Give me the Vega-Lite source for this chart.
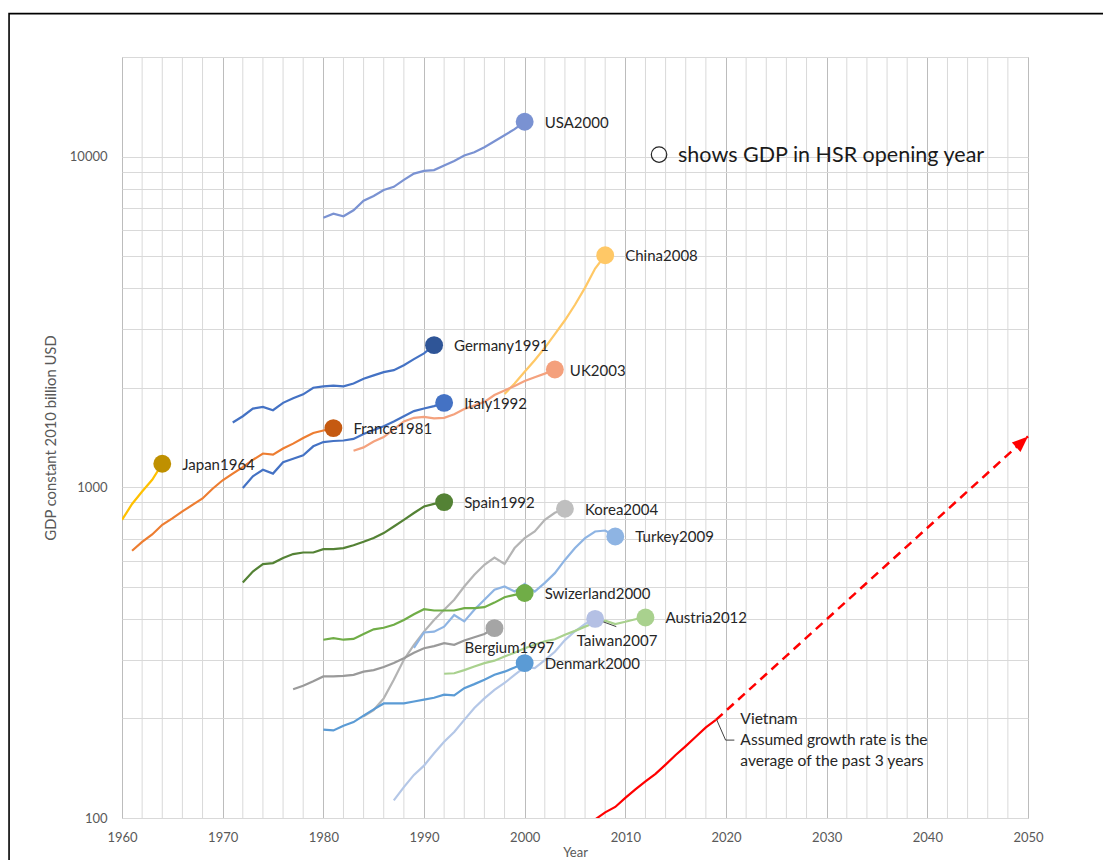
{
  "$schema": "https://vega.github.io/schema/vega-lite/v6.json",
  "width": 906,
  "height": 761,
  "autosize": {"type": "none"},
  "padding": {"left": 122, "top": 57, "right": 75, "bottom": 42},
  "background": "white",
  "config": {
    "view": {"stroke": "#bfbfbf", "strokeWidth": 1},
    "font": "Lato",
    "text": {"font": "Lato"},
    "axis": {"labelOverlap": false, "labelFlush": false, "labelBound": false}
  },
  "resolve": {"scale": {"color": "independent"}},
  "datasets": {
    "minorYears": [
      {"year": 1962}, {"year": 1964}, {"year": 1966}, {"year": 1968},
      {"year": 1972}, {"year": 1974}, {"year": 1976}, {"year": 1978},
      {"year": 1982}, {"year": 1984}, {"year": 1986}, {"year": 1988},
      {"year": 1992}, {"year": 1994}, {"year": 1996}, {"year": 1998},
      {"year": 2002}, {"year": 2004}, {"year": 2006}, {"year": 2008},
      {"year": 2012}, {"year": 2014}, {"year": 2016}, {"year": 2018},
      {"year": 2022}, {"year": 2024}, {"year": 2026}, {"year": 2028},
      {"year": 2032}, {"year": 2034}, {"year": 2036}, {"year": 2038},
      {"year": 2042}, {"year": 2044}, {"year": 2046}, {"year": 2048}
    ],
    "gdp": [
      {"country": "USA", "year": 1980, "gdp": 6530}, {"country": "USA", "year": 1981, "gdp": 6720}, {"country": "USA", "year": 1982, "gdp": 6600}, {"country": "USA", "year": 1983, "gdp": 6880}, {"country": "USA", "year": 1984, "gdp": 7350}, {"country": "USA", "year": 1985, "gdp": 7600}, {"country": "USA", "year": 1986, "gdp": 7920}, {"country": "USA", "year": 1987, "gdp": 8100}, {"country": "USA", "year": 1988, "gdp": 8500}, {"country": "USA", "year": 1989, "gdp": 8880}, {"country": "USA", "year": 1990, "gdp": 9050}, {"country": "USA", "year": 1991, "gdp": 9100}, {"country": "USA", "year": 1992, "gdp": 9400}, {"country": "USA", "year": 1993, "gdp": 9700}, {"country": "USA", "year": 1994, "gdp": 10070}, {"country": "USA", "year": 1995, "gdp": 10300}, {"country": "USA", "year": 1996, "gdp": 10670}, {"country": "USA", "year": 1997, "gdp": 11120}, {"country": "USA", "year": 1998, "gdp": 11600}, {"country": "USA", "year": 1999, "gdp": 12100}, {"country": "USA", "year": 2000, "gdp": 12740},
      {"country": "China", "year": 1998, "gdp": 1913}, {"country": "China", "year": 1999, "gdp": 2060}, {"country": "China", "year": 2000, "gdp": 2235}, {"country": "China", "year": 2001, "gdp": 2421}, {"country": "China", "year": 2002, "gdp": 2641}, {"country": "China", "year": 2003, "gdp": 2905}, {"country": "China", "year": 2004, "gdp": 3199}, {"country": "China", "year": 2005, "gdp": 3563}, {"country": "China", "year": 2006, "gdp": 4016}, {"country": "China", "year": 2007, "gdp": 4586}, {"country": "China", "year": 2008, "gdp": 5031},
      {"country": "UK", "year": 1983, "gdp": 1290}, {"country": "UK", "year": 1984, "gdp": 1320}, {"country": "UK", "year": 1985, "gdp": 1375}, {"country": "UK", "year": 1986, "gdp": 1419}, {"country": "UK", "year": 1987, "gdp": 1496}, {"country": "UK", "year": 1988, "gdp": 1581}, {"country": "UK", "year": 1989, "gdp": 1622}, {"country": "UK", "year": 1990, "gdp": 1633}, {"country": "UK", "year": 1991, "gdp": 1615}, {"country": "UK", "year": 1992, "gdp": 1622}, {"country": "UK", "year": 1993, "gdp": 1662}, {"country": "UK", "year": 1994, "gdp": 1725}, {"country": "UK", "year": 1995, "gdp": 1768}, {"country": "UK", "year": 1996, "gdp": 1812}, {"country": "UK", "year": 1997, "gdp": 1901}, {"country": "UK", "year": 1998, "gdp": 1962}, {"country": "UK", "year": 1999, "gdp": 2025}, {"country": "UK", "year": 2000, "gdp": 2096}, {"country": "UK", "year": 2001, "gdp": 2152}, {"country": "UK", "year": 2002, "gdp": 2206}, {"country": "UK", "year": 2003, "gdp": 2270},
      {"country": "Germany", "year": 1971, "gdp": 1570}, {"country": "Germany", "year": 1972, "gdp": 1640}, {"country": "Germany", "year": 1973, "gdp": 1730}, {"country": "Germany", "year": 1974, "gdp": 1750}, {"country": "Germany", "year": 1975, "gdp": 1710}, {"country": "Germany", "year": 1976, "gdp": 1800}, {"country": "Germany", "year": 1977, "gdp": 1860}, {"country": "Germany", "year": 1978, "gdp": 1910}, {"country": "Germany", "year": 1979, "gdp": 2000}, {"country": "Germany", "year": 1980, "gdp": 2020}, {"country": "Germany", "year": 1981, "gdp": 2030}, {"country": "Germany", "year": 1982, "gdp": 2020}, {"country": "Germany", "year": 1983, "gdp": 2060}, {"country": "Germany", "year": 1984, "gdp": 2130}, {"country": "Germany", "year": 1985, "gdp": 2180}, {"country": "Germany", "year": 1986, "gdp": 2230}, {"country": "Germany", "year": 1987, "gdp": 2260}, {"country": "Germany", "year": 1988, "gdp": 2340}, {"country": "Germany", "year": 1989, "gdp": 2440}, {"country": "Germany", "year": 1990, "gdp": 2540}, {"country": "Germany", "year": 1991, "gdp": 2690},
      {"country": "Italy", "year": 1972, "gdp": 995}, {"country": "Italy", "year": 1973, "gdp": 1080}, {"country": "Italy", "year": 1974, "gdp": 1130}, {"country": "Italy", "year": 1975, "gdp": 1100}, {"country": "Italy", "year": 1976, "gdp": 1190}, {"country": "Italy", "year": 1977, "gdp": 1220}, {"country": "Italy", "year": 1978, "gdp": 1250}, {"country": "Italy", "year": 1979, "gdp": 1330}, {"country": "Italy", "year": 1980, "gdp": 1370}, {"country": "Italy", "year": 1981, "gdp": 1380}, {"country": "Italy", "year": 1982, "gdp": 1385}, {"country": "Italy", "year": 1983, "gdp": 1400}, {"country": "Italy", "year": 1984, "gdp": 1450}, {"country": "Italy", "year": 1985, "gdp": 1490}, {"country": "Italy", "year": 1986, "gdp": 1530}, {"country": "Italy", "year": 1987, "gdp": 1580}, {"country": "Italy", "year": 1988, "gdp": 1640}, {"country": "Italy", "year": 1989, "gdp": 1700}, {"country": "Italy", "year": 1990, "gdp": 1730}, {"country": "Italy", "year": 1991, "gdp": 1760}, {"country": "Italy", "year": 1992, "gdp": 1800},
      {"country": "France", "year": 1961, "gdp": 643}, {"country": "France", "year": 1962, "gdp": 684}, {"country": "France", "year": 1963, "gdp": 720}, {"country": "France", "year": 1964, "gdp": 770}, {"country": "France", "year": 1965, "gdp": 805}, {"country": "France", "year": 1966, "gdp": 845}, {"country": "France", "year": 1967, "gdp": 885}, {"country": "France", "year": 1968, "gdp": 925}, {"country": "France", "year": 1969, "gdp": 990}, {"country": "France", "year": 1970, "gdp": 1050}, {"country": "France", "year": 1971, "gdp": 1100}, {"country": "France", "year": 1972, "gdp": 1150}, {"country": "France", "year": 1973, "gdp": 1210}, {"country": "France", "year": 1974, "gdp": 1265}, {"country": "France", "year": 1975, "gdp": 1255}, {"country": "France", "year": 1976, "gdp": 1310}, {"country": "France", "year": 1977, "gdp": 1355}, {"country": "France", "year": 1978, "gdp": 1410}, {"country": "France", "year": 1979, "gdp": 1460}, {"country": "France", "year": 1980, "gdp": 1485}, {"country": "France", "year": 1981, "gdp": 1510},
      {"country": "Japan", "year": 1960, "gdp": 797}, {"country": "Japan", "year": 1961, "gdp": 890}, {"country": "Japan", "year": 1962, "gdp": 971}, {"country": "Japan", "year": 1963, "gdp": 1054}, {"country": "Japan", "year": 1964, "gdp": 1178},
      {"country": "Spain", "year": 1972, "gdp": 515}, {"country": "Spain", "year": 1973, "gdp": 556}, {"country": "Spain", "year": 1974, "gdp": 586}, {"country": "Spain", "year": 1975, "gdp": 590}, {"country": "Spain", "year": 1976, "gdp": 611}, {"country": "Spain", "year": 1977, "gdp": 628}, {"country": "Spain", "year": 1978, "gdp": 635}, {"country": "Spain", "year": 1979, "gdp": 635}, {"country": "Spain", "year": 1980, "gdp": 650}, {"country": "Spain", "year": 1981, "gdp": 650}, {"country": "Spain", "year": 1982, "gdp": 655}, {"country": "Spain", "year": 1983, "gdp": 668}, {"country": "Spain", "year": 1984, "gdp": 684}, {"country": "Spain", "year": 1985, "gdp": 702}, {"country": "Spain", "year": 1986, "gdp": 727}, {"country": "Spain", "year": 1987, "gdp": 761}, {"country": "Spain", "year": 1988, "gdp": 797}, {"country": "Spain", "year": 1989, "gdp": 836}, {"country": "Spain", "year": 1990, "gdp": 875}, {"country": "Spain", "year": 1991, "gdp": 891}, {"country": "Spain", "year": 1992, "gdp": 902},
      {"country": "Korea", "year": 1984, "gdp": 203}, {"country": "Korea", "year": 1985, "gdp": 212}, {"country": "Korea", "year": 1986, "gdp": 230}, {"country": "Korea", "year": 1987, "gdp": 262}, {"country": "Korea", "year": 1988, "gdp": 301}, {"country": "Korea", "year": 1989, "gdp": 334}, {"country": "Korea", "year": 1990, "gdp": 366}, {"country": "Korea", "year": 1991, "gdp": 397}, {"country": "Korea", "year": 1992, "gdp": 426}, {"country": "Korea", "year": 1993, "gdp": 457}, {"country": "Korea", "year": 1994, "gdp": 501}, {"country": "Korea", "year": 1995, "gdp": 544}, {"country": "Korea", "year": 1996, "gdp": 583}, {"country": "Korea", "year": 1997, "gdp": 613}, {"country": "Korea", "year": 1998, "gdp": 586}, {"country": "Korea", "year": 1999, "gdp": 655}, {"country": "Korea", "year": 2000, "gdp": 702}, {"country": "Korea", "year": 2001, "gdp": 735}, {"country": "Korea", "year": 2002, "gdp": 797}, {"country": "Korea", "year": 2003, "gdp": 837}, {"country": "Korea", "year": 2004, "gdp": 861},
      {"country": "Turkey", "year": 1989, "gdp": 327}, {"country": "Turkey", "year": 1990, "gdp": 364}, {"country": "Turkey", "year": 1991, "gdp": 366}, {"country": "Turkey", "year": 1992, "gdp": 379}, {"country": "Turkey", "year": 1993, "gdp": 411}, {"country": "Turkey", "year": 1994, "gdp": 393}, {"country": "Turkey", "year": 1995, "gdp": 426}, {"country": "Turkey", "year": 1996, "gdp": 457}, {"country": "Turkey", "year": 1997, "gdp": 490}, {"country": "Turkey", "year": 1998, "gdp": 501}, {"country": "Turkey", "year": 1999, "gdp": 484}, {"country": "Turkey", "year": 2000, "gdp": 510}, {"country": "Turkey", "year": 2001, "gdp": 484}, {"country": "Turkey", "year": 2002, "gdp": 514}, {"country": "Turkey", "year": 2003, "gdp": 550}, {"country": "Turkey", "year": 2004, "gdp": 603}, {"country": "Turkey", "year": 2005, "gdp": 655}, {"country": "Turkey", "year": 2006, "gdp": 702}, {"country": "Turkey", "year": 2007, "gdp": 735}, {"country": "Turkey", "year": 2008, "gdp": 740}, {"country": "Turkey", "year": 2009, "gdp": 710},
      {"country": "Switzerland", "year": 1980, "gdp": 346}, {"country": "Switzerland", "year": 1981, "gdp": 350}, {"country": "Switzerland", "year": 1982, "gdp": 346}, {"country": "Switzerland", "year": 1983, "gdp": 348}, {"country": "Switzerland", "year": 1984, "gdp": 360}, {"country": "Switzerland", "year": 1985, "gdp": 372}, {"country": "Switzerland", "year": 1986, "gdp": 376}, {"country": "Switzerland", "year": 1987, "gdp": 384}, {"country": "Switzerland", "year": 1988, "gdp": 397}, {"country": "Switzerland", "year": 1989, "gdp": 413}, {"country": "Switzerland", "year": 1990, "gdp": 428}, {"country": "Switzerland", "year": 1991, "gdp": 424}, {"country": "Switzerland", "year": 1992, "gdp": 424}, {"country": "Switzerland", "year": 1993, "gdp": 424}, {"country": "Switzerland", "year": 1994, "gdp": 431}, {"country": "Switzerland", "year": 1995, "gdp": 431}, {"country": "Switzerland", "year": 1996, "gdp": 434}, {"country": "Switzerland", "year": 1997, "gdp": 448}, {"country": "Switzerland", "year": 1998, "gdp": 465}, {"country": "Switzerland", "year": 1999, "gdp": 473}, {"country": "Switzerland", "year": 2000, "gdp": 479},
      {"country": "Belgium", "year": 1977, "gdp": 245}, {"country": "Belgium", "year": 1978, "gdp": 251}, {"country": "Belgium", "year": 1979, "gdp": 259}, {"country": "Belgium", "year": 1980, "gdp": 268}, {"country": "Belgium", "year": 1981, "gdp": 268}, {"country": "Belgium", "year": 1982, "gdp": 269}, {"country": "Belgium", "year": 1983, "gdp": 271}, {"country": "Belgium", "year": 1984, "gdp": 277}, {"country": "Belgium", "year": 1985, "gdp": 280}, {"country": "Belgium", "year": 1986, "gdp": 286}, {"country": "Belgium", "year": 1987, "gdp": 294}, {"country": "Belgium", "year": 1988, "gdp": 304}, {"country": "Belgium", "year": 1989, "gdp": 316}, {"country": "Belgium", "year": 1990, "gdp": 326}, {"country": "Belgium", "year": 1991, "gdp": 331}, {"country": "Belgium", "year": 1992, "gdp": 338}, {"country": "Belgium", "year": 1993, "gdp": 334}, {"country": "Belgium", "year": 1994, "gdp": 344}, {"country": "Belgium", "year": 1995, "gdp": 352}, {"country": "Belgium", "year": 1996, "gdp": 360}, {"country": "Belgium", "year": 1997, "gdp": 375},
      {"country": "Denmark", "year": 1980, "gdp": 185}, {"country": "Denmark", "year": 1981, "gdp": 184}, {"country": "Denmark", "year": 1982, "gdp": 190}, {"country": "Denmark", "year": 1983, "gdp": 195}, {"country": "Denmark", "year": 1984, "gdp": 204}, {"country": "Denmark", "year": 1985, "gdp": 213}, {"country": "Denmark", "year": 1986, "gdp": 222}, {"country": "Denmark", "year": 1987, "gdp": 222}, {"country": "Denmark", "year": 1988, "gdp": 222}, {"country": "Denmark", "year": 1989, "gdp": 225}, {"country": "Denmark", "year": 1990, "gdp": 228}, {"country": "Denmark", "year": 1991, "gdp": 231}, {"country": "Denmark", "year": 1992, "gdp": 236}, {"country": "Denmark", "year": 1993, "gdp": 235}, {"country": "Denmark", "year": 1994, "gdp": 247}, {"country": "Denmark", "year": 1995, "gdp": 254}, {"country": "Denmark", "year": 1996, "gdp": 262}, {"country": "Denmark", "year": 1997, "gdp": 271}, {"country": "Denmark", "year": 1998, "gdp": 277}, {"country": "Denmark", "year": 1999, "gdp": 285}, {"country": "Denmark", "year": 2000, "gdp": 294},
      {"country": "Taiwan", "year": 1987, "gdp": 113}, {"country": "Taiwan", "year": 1988, "gdp": 124}, {"country": "Taiwan", "year": 1989, "gdp": 135}, {"country": "Taiwan", "year": 1990, "gdp": 144}, {"country": "Taiwan", "year": 1991, "gdp": 157}, {"country": "Taiwan", "year": 1992, "gdp": 170}, {"country": "Taiwan", "year": 1993, "gdp": 182}, {"country": "Taiwan", "year": 1994, "gdp": 198}, {"country": "Taiwan", "year": 1995, "gdp": 215}, {"country": "Taiwan", "year": 1996, "gdp": 230}, {"country": "Taiwan", "year": 1997, "gdp": 244}, {"country": "Taiwan", "year": 1998, "gdp": 256}, {"country": "Taiwan", "year": 1999, "gdp": 271}, {"country": "Taiwan", "year": 2000, "gdp": 286}, {"country": "Taiwan", "year": 2001, "gdp": 284}, {"country": "Taiwan", "year": 2002, "gdp": 300}, {"country": "Taiwan", "year": 2003, "gdp": 318}, {"country": "Taiwan", "year": 2004, "gdp": 345}, {"country": "Taiwan", "year": 2005, "gdp": 367}, {"country": "Taiwan", "year": 2006, "gdp": 386}, {"country": "Taiwan", "year": 2007, "gdp": 400},
      {"country": "Austria", "year": 1992, "gdp": 273}, {"country": "Austria", "year": 1993, "gdp": 274}, {"country": "Austria", "year": 1994, "gdp": 280}, {"country": "Austria", "year": 1995, "gdp": 287}, {"country": "Austria", "year": 1996, "gdp": 294}, {"country": "Austria", "year": 1997, "gdp": 299}, {"country": "Austria", "year": 1998, "gdp": 308}, {"country": "Austria", "year": 1999, "gdp": 316}, {"country": "Austria", "year": 2000, "gdp": 326}, {"country": "Austria", "year": 2001, "gdp": 334}, {"country": "Austria", "year": 2002, "gdp": 342}, {"country": "Austria", "year": 2003, "gdp": 347}, {"country": "Austria", "year": 2004, "gdp": 358}, {"country": "Austria", "year": 2005, "gdp": 368}, {"country": "Austria", "year": 2006, "gdp": 379}, {"country": "Austria", "year": 2007, "gdp": 390}, {"country": "Austria", "year": 2008, "gdp": 395}, {"country": "Austria", "year": 2009, "gdp": 386}, {"country": "Austria", "year": 2010, "gdp": 392}, {"country": "Austria", "year": 2011, "gdp": 399}, {"country": "Austria", "year": 2012, "gdp": 404},
      {"country": "Vietnam", "year": 2007, "gdp": 99}, {"country": "Vietnam", "year": 2008, "gdp": 104}, {"country": "Vietnam", "year": 2009, "gdp": 108}, {"country": "Vietnam", "year": 2010, "gdp": 115}, {"country": "Vietnam", "year": 2011, "gdp": 122}, {"country": "Vietnam", "year": 2012, "gdp": 129}, {"country": "Vietnam", "year": 2013, "gdp": 136}, {"country": "Vietnam", "year": 2014, "gdp": 145}, {"country": "Vietnam", "year": 2015, "gdp": 155}, {"country": "Vietnam", "year": 2016, "gdp": 165}, {"country": "Vietnam", "year": 2017, "gdp": 176}, {"country": "Vietnam", "year": 2018, "gdp": 188}, {"country": "Vietnam", "year": 2019, "gdp": 198}
    ],
    "hsr": [
      {"label": "USA2000", "year": 2000, "gdp": 12740},
      {"label": "China2008", "year": 2008, "gdp": 5031},
      {"label": "Germany1991", "year": 1991, "gdp": 2690},
      {"label": "UK2003", "year": 2003, "gdp": 2270},
      {"label": "Italy1992", "year": 1992, "gdp": 1800},
      {"label": "France1981", "year": 1981, "gdp": 1510},
      {"label": "Japan1964", "year": 1964, "gdp": 1178},
      {"label": "Spain1992", "year": 1992, "gdp": 902},
      {"label": "Korea2004", "year": 2004, "gdp": 861},
      {"label": "Turkey2009", "year": 2009, "gdp": 710},
      {"label": "Swizerland2000", "year": 2000, "gdp": 479},
      {"label": "Bergium1997", "year": 1997, "gdp": 375},
      {"label": "Taiwan2007", "year": 2007, "gdp": 400},
      {"label": "Austria2012", "year": 2012, "gdp": 404},
      {"label": "Denmark2000", "year": 2000, "gdp": 294}
    ],
    "projection": [
      {"year": 2019, "gdp": 198},
      {"year": 2050, "gdp": 1425}
    ],
    "vnLeader": [
      {"year": 2019.08, "gdp": 198},
      {"year": 2019.96, "gdp": 172},
      {"year": 2020.83, "gdp": 172}
    ],
    "one": [{}]
  },
  "layer": [
    {
      "data": {"name": "minorYears"},
      "mark": {"type": "rule", "color": "#d9d9d9", "strokeWidth": 1},
      "encoding": {
        "x": {"field": "year", "type": "quantitative", "scale": {"domain": [1960, 2050], "nice": false, "zero": false}}
      }
    },
    {
      "data": {"name": "gdp"},
      "mark": {"type": "line", "strokeWidth": 2.2, "clip": true},
      "encoding": {
        "x": {
          "field": "year", "type": "quantitative",
          "scale": {"domain": [1960, 2050], "nice": false, "zero": false},
          "axis": {
            "title": "Year",
            "values": [1960, 1970, 1980, 1990, 2000, 2010, 2020, 2030, 2040, 2050],
            "format": "d",
            "labelFlush": false,
            "labelOverlap": false,
            "ticks": false,
            "domain": false,
            "grid": true,
            "gridColor": "#bcbcbc",
            "gridWidth": 1,
            "labelColor": "#595959",
            "labelFont": "Lato",
            "labelFontSize": 13,
            "labelPadding": 13,
            "titleColor": "#595959",
            "titleFont": "Lato",
            "titleFontSize": 13,
            "titleFontWeight": "normal",
            "titlePadding": 2
          }
        },
        "y": {
          "field": "gdp", "type": "quantitative",
          "scale": {"type": "log", "domain": [100, 20000], "nice": false},
          "axis": {
            "title": "GDP constant 2010 billion USD",
            "values": [100,200,300,400,500,600,700,800,900,1000,2000,3000,4000,5000,6000,7000,8000,9000,10000,20000],
            "format": "d",
            "labelExpr": "indexof([100, 1000, 10000], datum.value) >= 0 ? datum.label : ''",
            "labelFlush": false,
            "labelOverlap": false,
            "ticks": false,
            "domain": false,
            "grid": true,
            "gridColor": "#d9d9d9",
            "labelColor": "#595959",
            "labelFont": "Lato",
            "labelFontSize": 13,
            "labelPadding": 15,
            "titleColor": "#595959",
            "titleFont": "Lato",
            "titleFontSize": 14.8,
            "titleFontWeight": "normal",
            "titlePadding": 11
          }
        },
        "color": {
          "field": "country", "type": "nominal", "legend": null,
          "scale": {
            "domain": ["USA", "China", "UK", "Germany", "Italy", "France", "Japan", "Spain", "Korea", "Turkey", "Switzerland", "Belgium", "Denmark", "Taiwan", "Austria", "Vietnam"],
            "range": ["#7a92d2", "#ffc866", "#f4a27e", "#4472c4", "#4472c4", "#ed7d31", "#ffc000", "#548235", "#b4b4b4", "#8eb4e3", "#70ad47", "#9a9a9a", "#5b9bd5", "#b4c7e7", "#a9d18e", "#ff0000"]
          }
        },
        "detail": {"field": "country"}
      }
    },
    {
      "data": {"name": "one"},
      "mark": {"type": "rect", "filled": false, "fill": null, "stroke": "#000000", "strokeWidth": 1.6, "clip": false},
      "encoding": {
        "x": {"datum": 1948.78, "type": "quantitative", "scale": {"domain": [1960, 2050], "nice": false, "zero": false}},
        "x2": {"datum": 2062},
        "y": {"datum": 27050, "type": "quantitative", "scale": {"type": "log", "domain": [100, 20000], "nice": false}},
        "y2": {"datum": 60}
      }
    },
    {
      "data": {"name": "projection"},
      "mark": {"type": "line", "color": "#ff0000", "strokeWidth": 2.5, "strokeDash": [9, 6], "clip": false},
      "encoding": {
        "x": {"field": "year", "type": "quantitative", "scale": {"domain": [1960, 2050], "nice": false, "zero": false}},
        "y": {"field": "gdp", "type": "quantitative", "scale": {"type": "log", "domain": [100, 20000], "nice": false}}
      }
    },
    {
      "data": {"name": "projection"},
      "transform": [{"filter": "datum.year === 2050"}],
      "mark": {"type": "point", "shape": "M0,0L-0.8,2L0.8,2Z", "size": 256, "angle": 47.7, "filled": true, "color": "#ff0000", "opacity": 1, "strokeWidth": 0, "clip": false},
      "encoding": {
        "x": {"field": "year", "type": "quantitative", "scale": {"domain": [1960, 2050], "nice": false, "zero": false}},
        "y": {"field": "gdp", "type": "quantitative", "scale": {"type": "log", "domain": [100, 20000], "nice": false}}
      }
    },
    {
      "data": {"name": "vnLeader"},
      "mark": {"type": "line", "color": "#404040", "strokeWidth": 1},
      "encoding": {
        "x": {"field": "year", "type": "quantitative", "scale": {"domain": [1960, 2050], "nice": false, "zero": false}},
        "y": {"field": "gdp", "type": "quantitative", "scale": {"type": "log", "domain": [100, 20000], "nice": false}}
      }
    },
    {
      "data": {"name": "one"},
      "mark": {"type": "rule", "color": "#404040", "strokeWidth": 1},
      "encoding": {
        "x": {"datum": 2007, "type": "quantitative", "scale": {"domain": [1960, 2050], "nice": false, "zero": false}},
        "x2": {"datum": 2009.1},
        "y": {"datum": 400, "type": "quantitative", "scale": {"type": "log", "domain": [100, 20000], "nice": false}},
        "y2": {"datum": 379}
      }
    },
    {
      "data": {"name": "hsr"},
      "mark": {"type": "circle", "size": 320, "opacity": 1},
      "encoding": {
        "x": {"field": "year", "type": "quantitative", "scale": {"domain": [1960, 2050], "nice": false, "zero": false}},
        "y": {"field": "gdp", "type": "quantitative", "scale": {"type": "log", "domain": [100, 20000], "nice": false}},
        "color": {
          "field": "label", "type": "nominal", "legend": null,
          "scale": {
            "domain": ["USA2000", "China2008", "Germany1991", "UK2003", "Italy1992", "France1981", "Japan1964", "Spain1992", "Korea2004", "Turkey2009", "Swizerland2000", "Bergium1997", "Taiwan2007", "Austria2012", "Denmark2000"],
            "range": ["#7a92d2", "#ffc866", "#2f5597", "#f4a07c", "#4472c4", "#c55a11", "#bf9000", "#548235", "#bfbfbf", "#8eb4e3", "#70ad47", "#a5a5a5", "#b4c0e4", "#a9d18e", "#5b9bd5"]
          }
        }
      }
    },
    {
      "data": {"name": "hsr"},
      "transform": [{"filter": "indexof(['UK2003', 'Bergium1997', 'Taiwan2007'], datum.label) < 0"}],
      "mark": {"type": "text", "align": "left", "baseline": "middle", "dx": 20, "dy": 1, "fontSize": 15, "font": "Lato", "color": "#262626"},
      "encoding": {
        "x": {"field": "year", "type": "quantitative", "scale": {"domain": [1960, 2050], "nice": false, "zero": false}},
        "y": {"field": "gdp", "type": "quantitative", "scale": {"type": "log", "domain": [100, 20000], "nice": false}},
        "text": {"field": "label"}
      }
    },
    {
      "data": {"name": "hsr"},
      "transform": [{"filter": "datum.label === 'UK2003'"}],
      "mark": {"type": "text", "align": "left", "baseline": "middle", "dx": 15, "dy": 1, "fontSize": 15, "font": "Lato", "color": "#262626"},
      "encoding": {
        "x": {"field": "year", "type": "quantitative", "scale": {"domain": [1960, 2050], "nice": false, "zero": false}},
        "y": {"field": "gdp", "type": "quantitative", "scale": {"type": "log", "domain": [100, 20000], "nice": false}},
        "text": {"field": "label"}
      }
    },
    {
      "data": {"name": "hsr"},
      "transform": [{"filter": "datum.label === 'Bergium1997'"}],
      "mark": {"type": "text", "align": "center", "baseline": "middle", "dx": 15, "dy": 20, "fontSize": 15, "font": "Lato", "color": "#262626"},
      "encoding": {
        "x": {"field": "year", "type": "quantitative", "scale": {"domain": [1960, 2050], "nice": false, "zero": false}},
        "y": {"field": "gdp", "type": "quantitative", "scale": {"type": "log", "domain": [100, 20000], "nice": false}},
        "text": {"field": "label"}
      }
    },
    {
      "data": {"name": "hsr"},
      "transform": [{"filter": "datum.label === 'Taiwan2007'"}],
      "mark": {"type": "text", "align": "center", "baseline": "middle", "dx": 22, "dy": 22, "fontSize": 15, "font": "Lato", "color": "#262626"},
      "encoding": {
        "x": {"field": "year", "type": "quantitative", "scale": {"domain": [1960, 2050], "nice": false, "zero": false}},
        "y": {"field": "gdp", "type": "quantitative", "scale": {"type": "log", "domain": [100, 20000], "nice": false}},
        "text": {"field": "label"}
      }
    },
    {
      "data": {"name": "one"},
      "mark": {"type": "text", "align": "left", "baseline": "top", "dx": 6, "dy": -1, "fontSize": 15.6, "font": "Lato", "lineHeight": 21, "color": "#262626", "text": ["Vietnam", "Assumed growth rate is the", "average of the past 3 years"]},
      "encoding": {
        "x": {"datum": 2020.83, "type": "quantitative", "scale": {"domain": [1960, 2050], "nice": false, "zero": false}},
        "y": {"datum": 208, "type": "quantitative", "scale": {"type": "log", "domain": [100, 20000], "nice": false}}
      }
    },
    {
      "data": {"name": "one"},
      "mark": {"type": "point", "shape": "circle", "size": 240, "filled": false, "stroke": "#262626", "strokeWidth": 1.2, "opacity": 1},
      "encoding": {
        "x": {"datum": 2013.35, "type": "quantitative", "scale": {"domain": [1960, 2050], "nice": false, "zero": false}},
        "y": {"datum": 10140, "type": "quantitative", "scale": {"type": "log", "domain": [100, 20000], "nice": false}}
      }
    },
    {
      "data": {"name": "one"},
      "mark": {"type": "text", "align": "left", "baseline": "middle", "dx": 19, "dy": 1, "fontSize": 21.5, "font": "Lato", "color": "#1a1a1a", "text": "shows GDP in HSR opening year"},
      "encoding": {
        "x": {"datum": 2013.35, "type": "quantitative", "scale": {"domain": [1960, 2050], "nice": false, "zero": false}},
        "y": {"datum": 10140, "type": "quantitative", "scale": {"type": "log", "domain": [100, 20000], "nice": false}}
      }
    }
  ]
}
